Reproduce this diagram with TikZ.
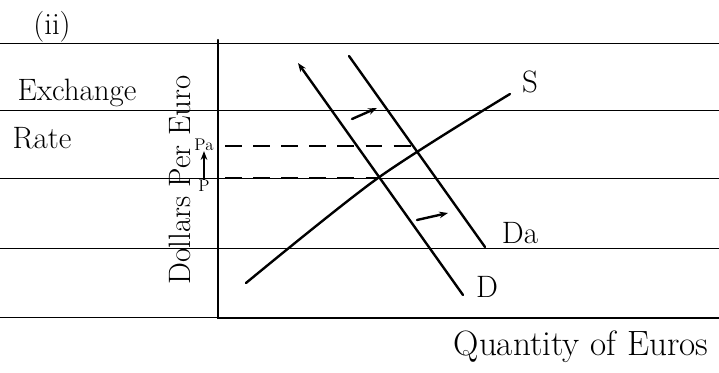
\documentclass[tikz,border=0pt]{standalone}
\usepackage{tikz}
\usetikzlibrary{positioning,arrows.meta}

\begin{document}
\begin{tikzpicture}[x=0.025cm,y=-0.025cm,>={Stealth[length=2.2mm]},
  ruled/.style={line width=0.6pt},
  curve/.style={line width=1.7pt,line cap=round},
  guide/.style={line width=0.9pt,dash pattern=on 12pt off 8pt},
  hand/.style={font=\fontsize{22}{24}\selectfont,inner sep=0pt},
  tag/.style={font=\fontsize{12}{12}\selectfont,inner sep=0pt}]
  \useasboundingbox (0,0) rectangle (719,373);
  % lined paper
  \foreach \y in {43,110,178,248,317}
    \draw[ruled] (0,\y) -- (719,\y);
  % axes
  \coordinate (top) at (218,40);
  \coordinate (origin) at (218,318);
  \coordinate (right) at (719,318);
  \draw[curve] (top) -- (origin) -- (right);
  % curves
  \coordinate (D0) at (298,63);  \coordinate (D1) at (463,295);
  \coordinate (Da0) at (349,56); \coordinate (Da1) at (485,247);
  \coordinate (S0) at (246,283); \coordinate (E0) at (378,178); \coordinate (S1) at (510,94);
  \coordinate (E1) at (415,146);
  \draw[curve,<-] (D0) -- (D1);
  \draw[curve] (Da0) -- (Da1);
  \draw[curve] plot[smooth] coordinates {(S0) (E0) (S1)};
  % equilibrium rates
  \coordinate (yP) at (225,178);
  \coordinate (yPa) at (225,146);
  \draw[guide] (yP) -- (E0);
  \draw[guide] (yPa) -- (E1);
  % shift arrows
  \coordinate (s1a) at (352,119); \coordinate (s1b) at (377,108);
  \coordinate (s2a) at (417,220); \coordinate (s2b) at (448,213);
  \draw[curve,->] (s1a) -- (s1b);
  \draw[curve,->] (s2a) -- (s2b);
  % labels
  \node[hand] (part) at (52,27) {(ii)};
  \node[hand] (exch) at (77,93) {Exchange};
  \node[hand] (rate) at (42,138) {Rate};
  \node[hand,rotate=90] (yax) at (180,180) {Dollars Per Euro};
  \node[tag] (Pa) at (204,145) {Pa};
  \node[tag] (P) at (204,186) {P};
  \draw[->,line width=0.8pt] (P) -- (Pa);
  \node[hand] (Slab) at (530,82) {S};
  \node[hand] (Dalab) at (520,233) {Da};
  \node[hand] (Dlab) at (487,287) {D};
  \node[hand,font=\fontsize{25}{27}\selectfont] (xax) at (581,347) {Quantity of Euros};
\end{tikzpicture}
\end{document}
